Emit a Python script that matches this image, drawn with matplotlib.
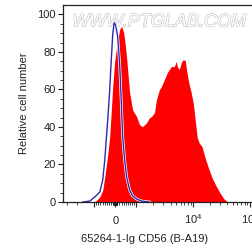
import numpy as np
import matplotlib
matplotlib.use('Agg')
import matplotlib.pyplot as plt
import matplotlib.patheffects as pe
from matplotlib.ticker import FixedLocator, NullFormatter

plt.rcParams['font.family'] = ['Liberation Sans', 'DejaVu Sans']
plt.rcParams['mathtext.fontset'] = 'custom'
plt.rcParams['mathtext.rm'] = 'Liberation Sans'

# isotype control (blue line)
iso_x = [-1574, -1189, -967, -731, -590, -495, -354, -259, -212, -118, -47, 24,
         118, 212, 259, 354, 448, 542, 684, 825, 1012, 1237, 1706]
iso_y = [0, 0.5, 2.7, 5.3, 11.8, 22.5, 43.9, 59.9, 70.6, 89.3, 95.7, 94.1,
         88.2, 73.3, 61.5, 34.8, 22.5, 13.4, 6.4, 3.2, 1.6, 0.5, 0]

# CD56 stained sample (red fill)
cd56_x = [-967, -731, -590, -495, -354, -259, -118, -24, 71, 212, 307, 401, 448,
          542, 590, 684, 825, 1012, 1142, 1288, 1513, 1706, 1849, 2086, 2262,
          2551, 2764, 3119, 3518, 3812, 4130, 4660, 5050, 5260, 5700, 6180,
          6690, 7250, 7860, 8510, 9230, 10000, 10840, 11800, 12700, 14350,
          16200, 18300, 21500, 25200, 29600, 34800, 40800]
cd56_y = [0, 2.7, 6.4, 13.4, 25.1, 34.8, 61.5, 74.9, 82.9, 92.0, 93.6, 90.4, 86.6,
          77.0, 70.6, 58.3, 49.2, 45.5, 41.2, 40.1, 42.2, 44.9, 45.5, 47.6, 54.5,
          59.9, 61.5, 65.2, 69.0, 70.6, 72.2, 72.2, 74.9, 72.2, 70.6, 74.3,
          75.9, 75.4, 67.9, 62.6, 58.3, 52.9, 43.9, 34.2, 31.6, 29.4,
          23.5, 18.7, 12.8, 8.6, 4.8, 1.6, 0]

x_major = [-1000, 0, 1000, 10000, 100000]
x_labels = ['', '0', '', r'$\mathregular{10^4}$', r'$\mathregular{10^5}$']

fig = plt.figure(figsize=(2.52, 2.49), dpi=100)
ax = fig.add_axes([0.25, 0.1888, 0.837, 0.791])

ax.fill_between(cd56_x, cd56_y, 0, color='#ff0000', linewidth=0)
ax.plot(iso_x, iso_y, color='#2b2bb0', linewidth=1.0,
        path_effects=[pe.Stroke(linewidth=2.0, foreground='white'), pe.Normal()])

ax.set_xscale('symlog', linthresh=1000, linscale=0.333)
ax.set_xlim(-3524, 262144)
ax.set_ylim(0, 105)

minor = [-3000, -2000]
minor += [s * v for s in (-1, 1) for v in range(100, 1000, 100)]
minor += [s * v for s in (-1, 1) for v in range(10, 100, 10)]
minor += [m * d for d in (1000, 10000) for m in range(2, 10)] + [200000]
ax.xaxis.set_major_locator(FixedLocator(x_major))
ax.xaxis.set_minor_locator(FixedLocator(minor))
ax.xaxis.set_minor_formatter(NullFormatter())
ax.set_xticklabels(x_labels)
for lbl in ax.get_xticklabels():
    lbl.set_va('baseline')

ax.set_yticks([0, 20, 40, 60, 80, 100])
ax.yaxis.set_minor_locator(FixedLocator(np.arange(0, 105, 5)))

ax.tick_params(which='major', direction='out', length=3.5, width=0.8,
               labelsize=8, colors='#222222')
ax.tick_params(which='minor', direction='out', length=2, width=0.6, colors='#222222')
ax.tick_params(axis='x', which='major', pad=12)
ax.tick_params(axis='y', which='major', pad=1.5)

for side in ['top', 'left', 'bottom']:
    ax.spines[side].set_color('#222222')
    ax.spines[side].set_linewidth(0.9)
ax.spines['right'].set_visible(False)

ax.set_ylabel('Relative cell number', fontsize=8, color='#222222', labelpad=6)
ax.set_xlabel('65264-1-Ig CD56 (B-A19)', fontsize=8, color='#222222', labelpad=4)
ax.xaxis.set_label_coords(0.385, -0.16)

ax.text(0.455, 0.914, 'WWW.PTGLAB.COM', transform=ax.transAxes, fontsize=13,
        fontstyle='italic', color='white', ha='center', va='center',
        path_effects=[pe.Stroke(linewidth=0.9, foreground='#c4c4c4'), pe.Normal()])

plt.savefig('out.png', dpi=100)
plt.close()
